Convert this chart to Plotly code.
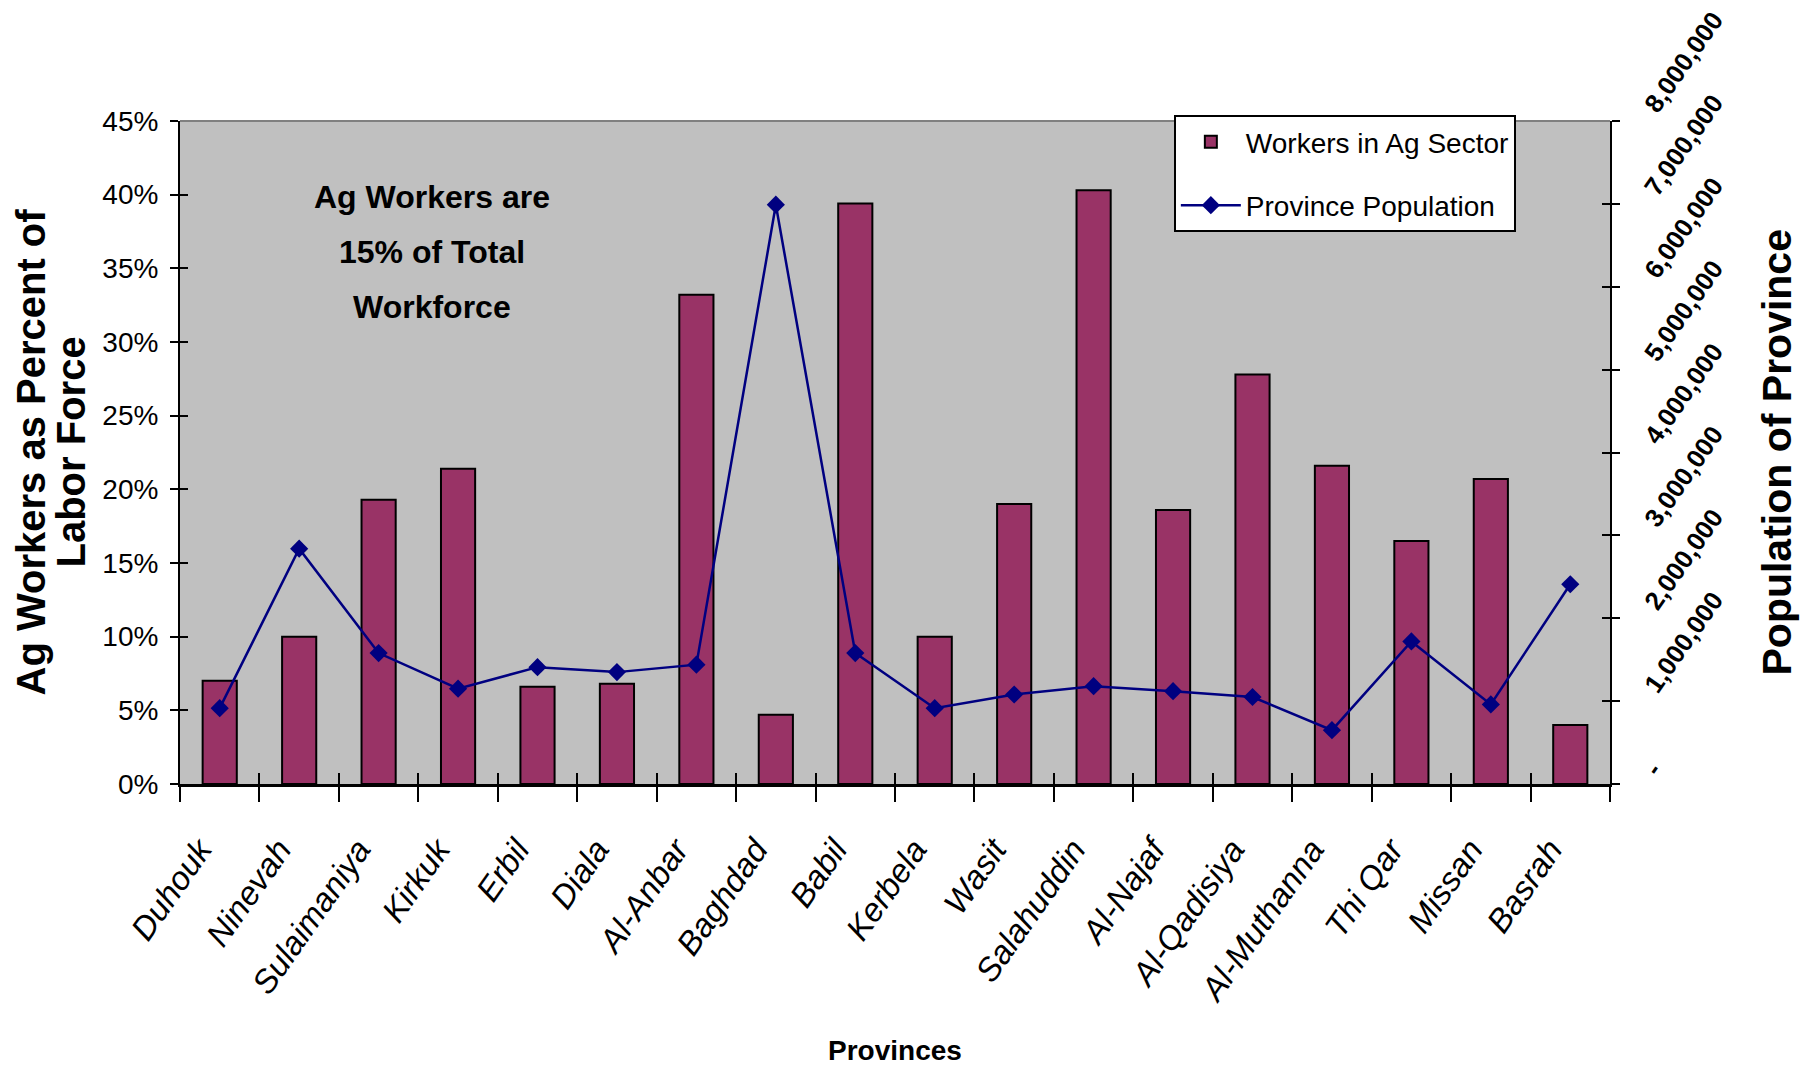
import plotly.graph_objects as go

# ---------------- data ----------------
provinces = ["Duhouk", "Ninevah", "Sulaimaniya", "Kirkuk", "Erbil", "Diala",
             "Al-Anbar", "Baghdad", "Babil", "Kerbela", "Wasit", "Salahuddin",
             "Al-Najaf", "Al-Qadisiya", "Al-Muthanna", "Thi Qar", "Missan", "Basrah"]
ag_share = [0.070, 0.100, 0.193, 0.214, 0.066, 0.068, 0.332, 0.047, 0.394,
            0.100, 0.190, 0.403, 0.186, 0.278, 0.216, 0.165, 0.207, 0.040]
population = [915000, 2840000, 1580000, 1150000, 1410000, 1350000, 1440000,
              6990000, 1580000, 915000, 1080000, 1180000, 1120000, 1050000,
              650000, 1720000, 960000, 2410000]
pop_tickvals = [0, 1000000, 2000000, 3000000, 4000000, 5000000, 6000000, 7000000, 8000000]
pop_ticktext = ["-", "1,000,000", "2,000,000", "3,000,000", "4,000,000",
                "5,000,000", "6,000,000", "7,000,000", "8,000,000"]
note_lines = ["Ag Workers are", "15% of Total", "Workforce"]

# ---------------- styles ----------------
SANS = "Liberation Sans, Arial, sans-serif"
BAR = "#993366"
NAVY = "#000080"

fig = go.Figure()
fig.add_trace(go.Bar(
    x=provinces, y=ag_share, name="Workers in Ag Sector",
    marker=dict(color=BAR, line=dict(color="black", width=2)),
    xaxis="x", yaxis="y", legendgroup="a",
))
fig.add_trace(go.Scatter(
    x=provinces, y=population, name="Province Population", mode="lines+markers",
    line=dict(color=NAVY, width=2.5),
    marker=dict(symbol="diamond", size=14, color=NAVY),
    xaxis="x2", yaxis="y2", legendgroup="b",
))
# helper traces so the inner-tick axes get drawn
fig.add_trace(go.Scatter(x=[], y=[], xaxis="x", yaxis="y3", showlegend=False, hoverinfo="skip"))
fig.add_trace(go.Scatter(x=[], y=[], xaxis="x", yaxis="y4", showlegend=False, hoverinfo="skip"))

n = len(provinces)
common_x = dict(type="category", categoryorder="array", categoryarray=provinces,
                range=[-0.5, n - 0.5], showgrid=False, zeroline=False, automargin=False)

fig.update_layout(
    width=1808, height=1069,
    margin=dict(l=180, r=198, t=121, b=285, autoexpand=False),
    paper_bgcolor="white", plot_bgcolor="#C0C0C0",
    bargap=0.57,
    showlegend=True,
    legend=dict(x=0.695, y=1.009, xanchor="left", yanchor="top",
                bgcolor="white", bordercolor="black", borderwidth=2,
                font=dict(family=SANS, size=28, color="black"),
                tracegroupgap=24, itemwidth=60),
    xaxis=dict(**common_x, anchor="y", showline=True, linecolor="black", linewidth=3,
               ticks="outside", ticklen=15, tickwidth=2, tickcolor="black",
               tickson="boundaries", tickangle=-55, ticklabelstandoff=30,
               ticklabelshift=-20,
               tickfont=dict(family=SANS, size=33, color="black", style="italic")),
    xaxis2=dict(**common_x, overlaying="x", anchor="y", showline=False,
                ticks="inside", ticklen=11, tickwidth=2, tickcolor="black",
                tickson="boundaries", showticklabels=False),
    yaxis=dict(range=[0, 0.45], dtick=0.05, tickformat=".0%", showgrid=False,
               zeroline=False, showline=True, linecolor="black", linewidth=2,
               ticks="outside", ticklen=8, tickwidth=2, tickcolor="black",
               ticklabelstandoff=6, automargin=False,
               tickfont=dict(family=SANS, size=28, color="black")),
    yaxis2=dict(range=[0, 8000000], tickvals=pop_tickvals, ticktext=pop_ticktext,
                overlaying="y", side="right", anchor="x", showgrid=False,
                zeroline=False, showline=True, linecolor="black", linewidth=2,
                ticks="outside", ticklen=8, tickwidth=2, tickcolor="black",
                tickangle=-55, ticklabelstandoff=22, ticklabelshift=-10,
                automargin=False,
                tickfont=dict(family=SANS, size=26, color="black", weight="bold")),
    yaxis3=dict(range=[0, 0.45], dtick=0.05, overlaying="y", side="left", anchor="x",
                showgrid=False, zeroline=False, showline=False, automargin=False,
                ticks="inside", ticklen=8, tickwidth=2, tickcolor="black",
                showticklabels=False),
    yaxis4=dict(range=[0, 8000000], tickvals=pop_tickvals, overlaying="y", side="right",
                anchor="x", showgrid=False, zeroline=False, showline=False,
                automargin=False,
                ticks="inside", ticklen=8, tickwidth=2, tickcolor="black",
                showticklabels=False),
    shapes=[dict(type="line", xref="paper", yref="paper", x0=0, x1=1, y0=1, y1=1,
                 line=dict(color="#808080", width=2))],
)

annotations = []
# in-plot note, one annotation per line for spacing control
for i, line in enumerate(note_lines):
    annotations.append(dict(
        text=line, xref="paper", yref="paper", x=0.176, y=0.885 - 0.083 * i,
        xanchor="center", yanchor="middle", showarrow=False,
        font=dict(family=SANS, size=32, color="black", weight="bold")))
# left axis title (two lines)
for txt, xs in [("Ag Workers as Percent of", 30), ("Labor Force", 70)]:
    annotations.append(dict(
        text=txt, xref="paper", yref="paper", x=0, xshift=xs - 180, y=0.5,
        xanchor="center", yanchor="middle", textangle=-90, showarrow=False,
        font=dict(family=SANS, size=40, color="black", weight="bold")))
# right axis title
annotations.append(dict(
    text="Population of Province", xref="paper", yref="paper", x=1, xshift=1776 - 1610,
    y=0.5, xanchor="center", yanchor="middle", textangle=-90, showarrow=False,
    font=dict(family=SANS, size=41, color="black", weight="bold")))
# x axis title
annotations.append(dict(
    text="Provinces", xref="paper", yref="paper", x=0.5, y=0, yshift=-(1050 - 784),
    xanchor="center", yanchor="middle", showarrow=False,
    font=dict(family=SANS, size=28, color="black", weight="bold")))
fig.update_layout(annotations=annotations)

fig.write_html("out.html")
